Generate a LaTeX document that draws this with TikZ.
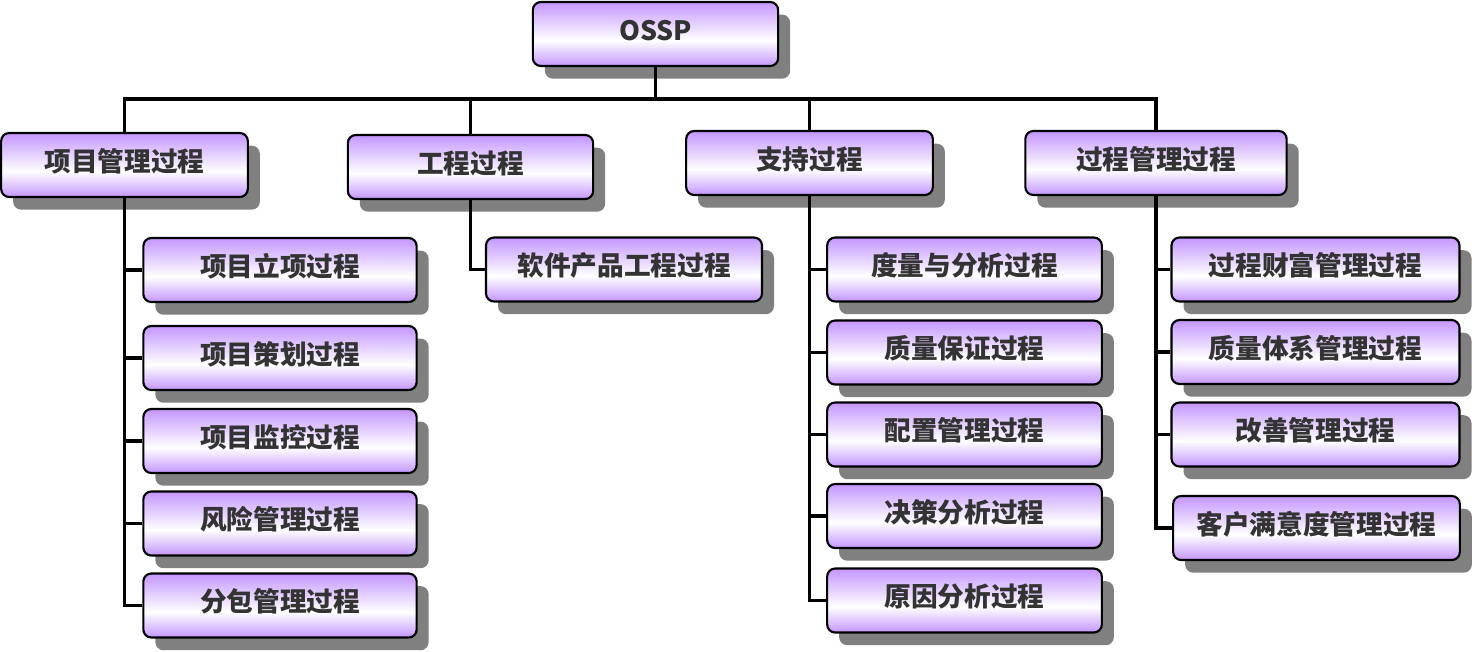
\documentclass[tikz,border=0pt]{standalone}
\usepackage{fontspec}
\setmainfont{Noto Sans CJK SC}
\usetikzlibrary{shadows}

\definecolor{boxpurple}{RGB}{196,150,255}
\definecolor{textgray}{RGB}{51,51,51}
\pgfdeclareverticalshading{boxshade}{100bp}{color(0bp)=(boxpurple); color(25bp)=(boxpurple); color(45bp)=(white); color(75bp)=(boxpurple); color(100bp)=(boxpurple)}

\begin{document}
\begin{tikzpicture}[
    x=0.75pt, y=-0.75pt,
    link/.style={line width=2.5pt},
    process/.style={draw, line width=1.6pt, rounded corners=6pt, shading=boxshade,
        minimum height=48pt, align=center, font=\fontsize{20}{24}\selectfont\bfseries,
        text=textgray, text height=15pt, text depth=6pt,
        drop shadow={shadow xshift=9pt, shadow yshift=-9.5pt, fill=gray, opacity=1}},
    subprocess/.style={process}
]
\useasboundingbox (0,0) rectangle (1474,651);

% Root and first level
\node[process, minimum width=184pt] (OSSP) at (655.5, 34) {OSSP};
\node[process, minimum width=185pt] (PM) at (124.5, 165) {项目管理过程};
\node[process, minimum width=184pt] (ENG) at (470.5, 167) {工程过程};
\node[process, minimum width=185pt] (SUP) at (809.5, 163) {支持过程};
\node[process, minimum width=196pt] (PRM) at (1156, 163) {过程管理过程};

% Project management
\node[subprocess, minimum width=205pt] (PM1) at (280, 270) {项目立项过程};
\node[subprocess, minimum width=205pt] (PM2) at (280, 358) {项目策划过程};
\node[subprocess, minimum width=205pt] (PM3) at (280, 441) {项目监控过程};
\node[subprocess, minimum width=205pt] (PM4) at (280, 523.5) {风险管理过程};
\node[subprocess, minimum width=205pt] (PM5) at (280, 605.5) {分包管理过程};

% Engineering
\node[subprocess, minimum width=207pt] (ENG1) at (624, 269.5) {软件产品工程过程};

% Support
\node[subprocess, minimum width=206pt] (SUP1) at (964.5, 269.5) {度量与分析过程};
\node[subprocess, minimum width=206pt] (SUP2) at (964.5, 352.5) {质量保证过程};
\node[subprocess, minimum width=206pt] (SUP3) at (964.5, 434.5) {配置管理过程};
\node[subprocess, minimum width=206pt] (SUP4) at (964.5, 516) {决策分析过程};
\node[subprocess, minimum width=206pt] (SUP5) at (964.5, 600.5) {原因分析过程};

% Process management
\node[subprocess, minimum width=216pt] (PRM1) at (1315.5, 269.5) {过程财富管理过程};
\node[subprocess, minimum width=216pt] (PRM2) at (1315.5, 352) {质量体系管理过程};
\node[subprocess, minimum width=216pt] (PRM3) at (1315.5, 434.5) {改善管理过程};
\node[subprocess, minimum width=215pt] (PRM4) at (1316.5, 528) {客户满意度管理过程};

\coordinate (bus) at (0, 99);
\draw[link] (OSSP.south) -- (OSSP.south |- bus);
\draw[link] (PM.north) -- (PM.north |- bus) -| (PRM.north);
\draw[link] (ENG.north) -- (ENG.north |- bus);
\draw[link] (SUP.north) -- (SUP.north |- bus);

\draw[link] (PM.south) |- (PM5.west);
\foreach \i in {1,...,4}
    \draw[link] (PM.south |- PM\i.west) -- (PM\i.west);
\draw[link] (ENG.south) |- (ENG1.west);
\draw[link] (SUP.south) |- (SUP5.west);
\foreach \i in {1,...,4}
    \draw[link] (SUP.south |- SUP\i.west) -- (SUP\i.west);
\draw[link] (PRM.south) |- (PRM4.west);
\foreach \i in {1,...,3}
    \draw[link] (PRM.south |- PRM\i.west) -- (PRM\i.west);

\end{tikzpicture}
\end{document}
